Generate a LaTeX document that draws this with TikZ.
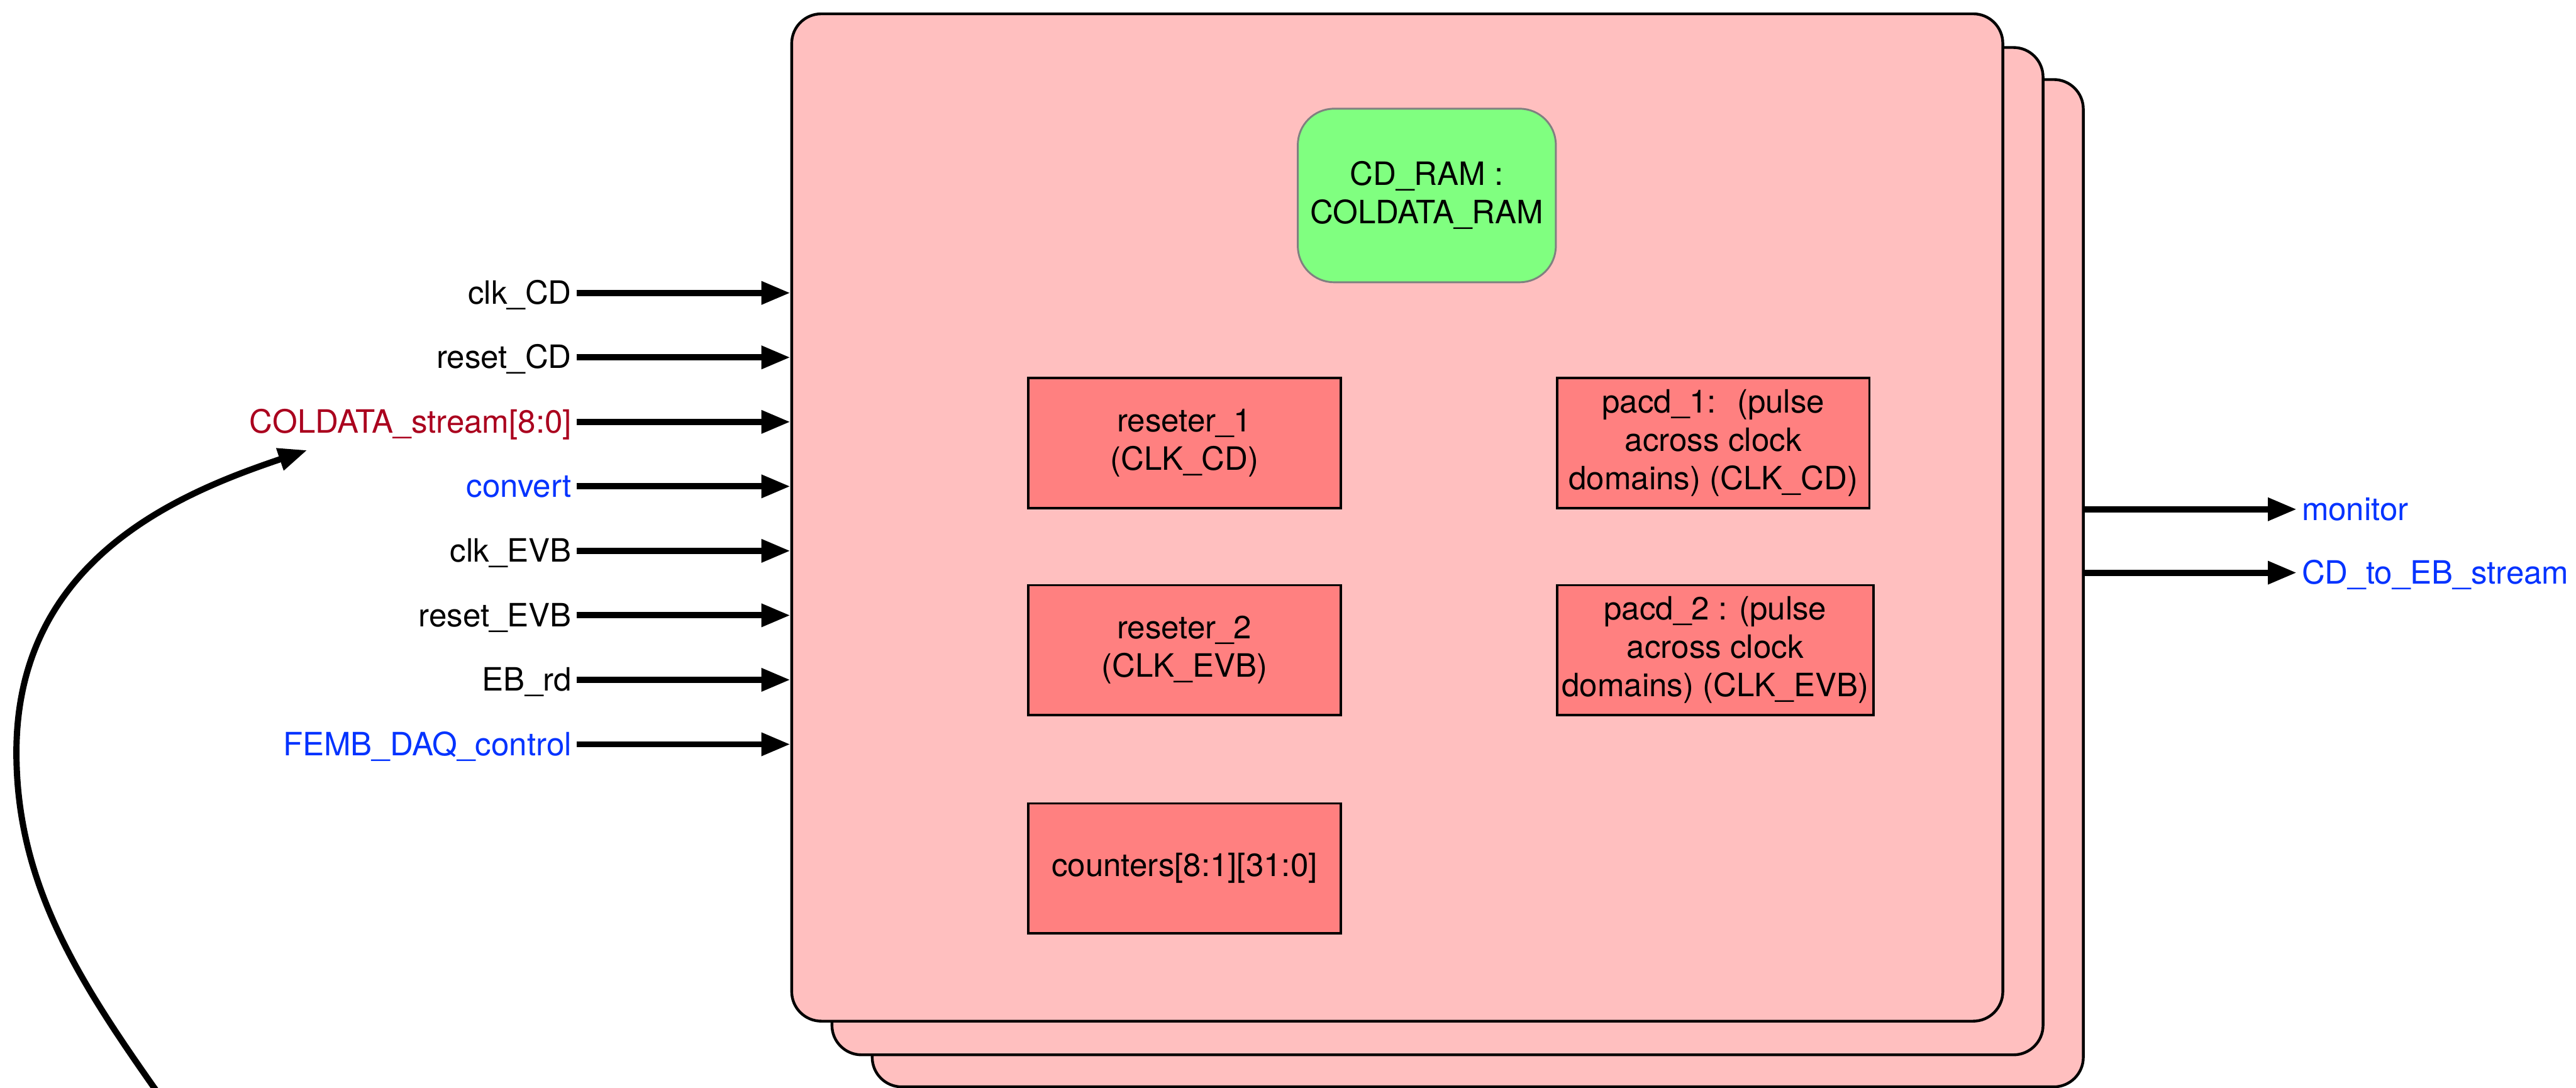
\documentclass[tikz,border=0pt]{standalone}
\usepackage{fontspec}
\setmainfont{TeX Gyre Heros}
\usetikzlibrary{arrows.meta,positioning}

\definecolor{stackpink}{RGB}{255,191,191}
\definecolor{blocksalmon}{RGB}{255,128,128}
\definecolor{ramgreen}{RGB}{128,255,128}
\definecolor{sigred}{RGB}{170,0,30}
\definecolor{sigblue}{RGB}{4,51,255}

\tikzset{
  stackbox/.style={draw,line width=1.2pt,fill=stackpink,rounded corners=0.45cm,
    minimum width=18.425cm,minimum height=15.325cm},
  blockbox/.style={draw,line width=1pt,fill=blocksalmon,minimum width=4.75cm,
    minimum height=1.975cm,inner sep=2pt,align=center},
  rambox/.style={draw=gray,line width=0.8pt,fill=ramgreen,rounded corners=0.55cm,
    minimum width=3.925cm,minimum height=2.64cm,align=center},
  siglabel/.style={inner xsep=2pt,inner ysep=0pt,text height=0.96em,text depth=0pt},
  sigarrow/.style={line width=2.7pt,-{Triangle[length=12.5pt,width=9.5pt]}}
}

\begin{document}
\begin{tikzpicture}[x=0.025cm,y=-0.025cm,font=\fontsize{13.9}{16.6}\selectfont]
        \useasboundingbox (0,0) rectangle (1568,662.2);

        % three stacked instances, back one first
        \node[stackbox] (blk3) at (899.5,355) {};
        \node[stackbox] (blk2) at (875,335.5) {};
        \node[stackbox] (blk1) at (850.5,315) {};

        \node[rambox] (ram) at (868.5,119) {CD\_RAM :\\COLDATA\_RAM};

        \node[blockbox] (rst1) at (721,269.7) {reseter\_1\\(CLK\_CD)};
        \node[blockbox,below=1.14cm of rst1] (rst2) {reseter\_2\\(CLK\_EVB)};
        \node[blockbox,below=1.31cm of rst2] (cnt) {counters[8:1][31:0]};
        \node[blockbox,right=3.26cm of rst1] (pacd1) {pacd\_1:~ (pulse\\across clock\\domains) (CLK\_CD)};
        \node[blockbox,right=3.26cm of rst2] (pacd2) {pacd\_2 : (pulse\\across clock\\domains) (CLK\_EVB)};

        % inputs
        \foreach \nm/\sig/\col [count=\i from 0] in {clkcd/clk\_CD/black,
            rstcd/reset\_CD/black, coldata/COLDATA\_stream[8:0]/sigred,
            convert/convert/sigblue, clkevb/clk\_EVB/black,
            rstevb/reset\_EVB/black, ebrd/EB\_rd/black,
            daqctl/FEMB\_DAQ\_control/sigblue}
        {
            \node[siglabel,text=\col,anchor=east] (\nm) at (351,178.3+39.25*\i) {\sig};
            \draw[sigarrow] (\nm) -- (\nm -| blk1.west);
        }

        % outputs
        \node[siglabel,text=sigblue,anchor=west] (monitor) at (1398,310) {monitor};
        \node[siglabel,text=sigblue,anchor=west] (cdtoeb) at (1398,348.6) {CD\_to\_EB\_stream};
        \draw[sigarrow] (blk3.east |- monitor) -- (monitor);
        \draw[sigarrow] (blk3.east |- cdtoeb) -- (cdtoeb);

        \coordinate (curvefoot) at (98,668);
        \coordinate (coltip) at (187,274);
        \draw[sigarrow] (curvefoot)
            .. controls (50,600) and (10,540) .. (10,458)
            .. controls (10,340) and (110,300) .. (coltip);
\end{tikzpicture}
\end{document}
